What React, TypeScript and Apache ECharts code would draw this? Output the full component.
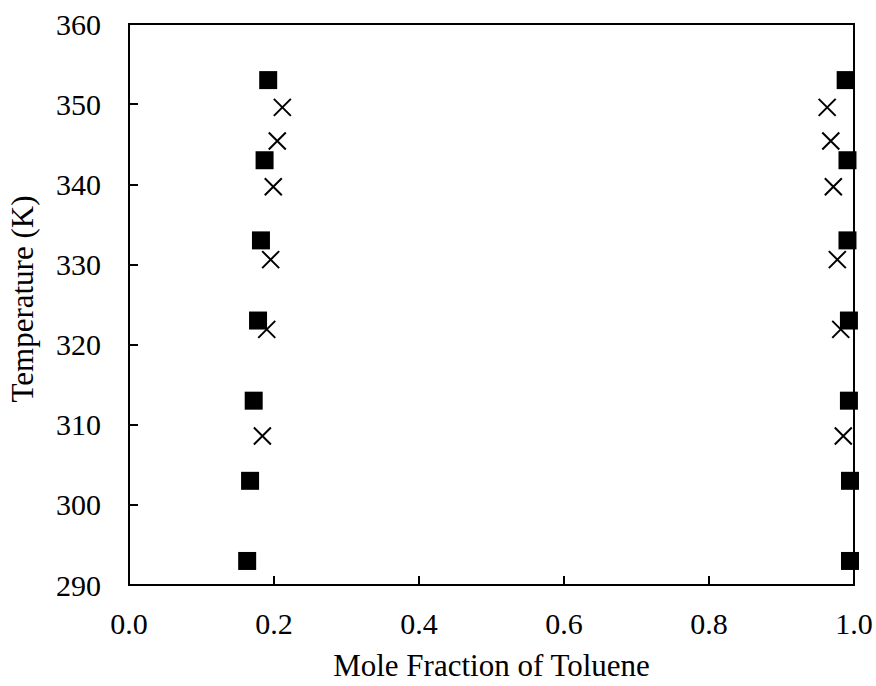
import React, { useEffect, useRef } from "react";
import * as echarts from "echarts";

const squareLeftX = [0.163, 0.167, 0.172, 0.178, 0.182, 0.187, 0.192];
const squareRightX = [0.9945, 0.9945, 0.993, 0.993, 0.991, 0.991, 0.9885];
const squareT = [293, 303, 313, 323, 333, 343, 353];

const crossLeftX = [0.184, 0.19, 0.1954, 0.199, 0.2045, 0.2115];
const crossRightX = [0.9852, 0.9817, 0.977, 0.9715, 0.968, 0.963];
const crossT = [308.6, 321.9, 330.6, 339.7, 345.4, 349.6];

const xAxisTitle = "Mole Fraction of Toluene";
const yAxisTitle = "Temperature (K)";

const FONT = "'Liberation Serif', 'Times New Roman', serif";

export default function App() {
  const ref = useRef<HTMLDivElement>(null);
  useEffect(() => {
    if (!ref.current) return;
    const chart = echarts.init(ref.current, null, { renderer: "svg" });
    const sq = [
      ...squareLeftX.map((x, i) => [x, squareT[i]]),
      ...squareRightX.map((x, i) => [x, squareT[i]]),
    ];
    const cr = [
      ...crossLeftX.map((x, i) => [x, crossT[i]]),
      ...crossRightX.map((x, i) => [x, crossT[i]]),
    ];
    chart.setOption({
      animation: false,
      backgroundColor: "#fff",
      grid: {
        left: 129,
        right: 22,
        top: 24,
        bottom: 96,
        show: true,
        borderColor: "#000",
        borderWidth: 2,
        backgroundColor: "transparent",
      },
      graphic: [
        {
          type: "text",
          x: 22,
          y: 299,
          rotation: Math.PI / 2,
          style: {
            text: yAxisTitle,
            fontFamily: FONT,
            fontSize: 31,
            fill: "#000",
            textAlign: "center",
            textVerticalAlign: "middle",
          },
        },
      ],
      xAxis: {
        type: "value",
        min: 0,
        max: 1,
        interval: 0.2,
        name: xAxisTitle,
        nameLocation: "middle",
        nameGap: 65,
        nameTextStyle: { fontFamily: FONT, fontSize: 31, color: "#000" },
        axisLine: { show: true, lineStyle: { color: "#000", width: 2 } },
        axisTick: { show: true, inside: true, length: 9, lineStyle: { color: "#000", width: 2 } },
        axisLabel: {
          fontFamily: FONT,
          fontSize: 30,
          color: "#000",
          margin: 23,
          formatter: (v: number) => v.toFixed(1),
        },
        splitLine: { show: false },
      },
      yAxis: {
        type: "value",
        min: 290,
        max: 360,
        interval: 10,
        axisLine: { show: true, lineStyle: { color: "#000", width: 2 } },
        axisTick: { show: true, inside: true, length: 9, lineStyle: { color: "#000", width: 2 } },
        axisLabel: { fontFamily: FONT, fontSize: 30, color: "#000", margin: 28 },
        splitLine: { show: false },
      },
      series: [
        {
          type: "scatter",
          data: sq,
          symbol: "rect",
          symbolSize: 18,
          itemStyle: { color: "#000", opacity: 1 },
        },
        {
          type: "scatter",
          data: cr,
          symbol: "path://M0,0L10,10M10,0L0,10",
          symbolSize: 17,
          itemStyle: { color: "none", borderColor: "#000", borderWidth: 2, opacity: 1 },
        },
      ],
    });
    return () => chart.dispose();
  }, []);
  return (
    <div
      ref={ref}
      style={{ position: "fixed", left: 0, top: 0, width: 876, height: 686 }}
    />
  );
}
